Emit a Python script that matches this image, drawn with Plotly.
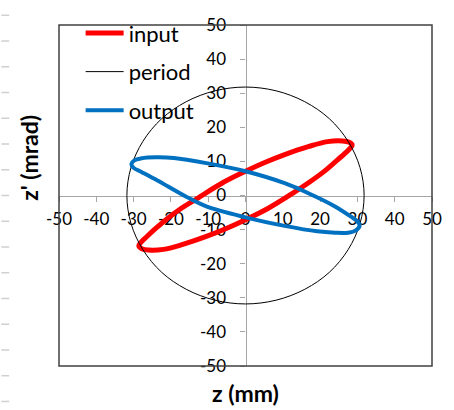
import plotly.graph_objects as go

# ---- data ----
input_z = [0.0, -6.0, -13.0, -17.0, -21.0, -24.0, -26.5, -28.0, -28.6, -27.8, -26.0, -22.0, -17.0,
           -10.5, -5.0, 0.0, 6.0, 13.0, 17.0, 21.0, 24.0, 26.5, 28.0, 28.6, 27.8, 26.0, 22.0,
           17.0, 10.5, 5.0, 0.0]
input_zp = [7.1, 3.8, -0.9, -3.6, -6.8, -9.6, -12.1, -13.7, -14.8, -15.6, -16.0, -15.8, -14.4,
            -12.0, -9.6, -7.1, -3.8, 0.9, 3.8, 7.0, 9.8, 12.2, 13.8, 14.8, 15.6, 16.0, 15.8,
            14.4, 12.0, 9.6, 7.1]

period_z = [31.8, 30.7, 27.5, 22.5, 15.9, 8.2, 0.0, -8.2, -15.9, -22.5, -27.5, -30.7, -31.8,
            -30.7, -27.5, -22.5, -15.9, -8.2, 0.0, 8.2, 15.9, 22.5, 27.5, 30.7, 31.8]
period_zp = [0.0, 8.2, 15.9, 22.5, 27.5, 30.7, 31.8, 30.7, 27.5, 22.5, 15.9, 8.2, 0.0,
             -8.2, -15.9, -22.5, -27.5, -30.7, -31.8, -30.7, -27.5, -22.5, -15.9, -8.2, 0.0]

output_z = [0.0, -10.5, -19.2, -24.0, -27.9, -29.8, -30.6, -30.0, -27.9, -23.6, -16.0, -10.5,
            0.0, 10.5, 19.2, 24.0, 27.5, 29.6, 30.6, 30.0, 28.4, 24.0, 17.0, 10.5, 0.0]
output_zp = [7.1, 9.5, 11.0, 11.2, 10.9, 10.3, 9.2, 8.1, 6.9, 4.4, -0.3, -3.2,
             -6.4, -8.9, -10.5, -10.9, -10.9, -10.2, -8.8, -7.6, -6.3, -3.2, 0.6, 3.6, 7.1]

x_ticks = [-50, -40, -30, -20, -10, 0, 10, 20, 30, 40, 50]
y_ticks = [-50, -40, -30, -20, -10, 0, 10, 20, 30, 40, 50]
x_tick_labels = ["-50", "-40", "-30", "-20", "-10", "0", "10", "20", "30", "40", "50"]
y_tick_labels = ["-50", "-40", "-30", "-20", "-10", "0", "10", "20", "30", "40", "50"]

FONT = "Lato"
W, H = 454, 410
ML, MR, MT, MB = 59, 13, 15, 44
PW, PH = W - ML - MR, H - MT - MB

fig = go.Figure()
fig.add_trace(go.Scatter(x=input_z, y=input_zp, mode="lines", name="input",
                         line=dict(color="#FF0000", width=5, shape="spline"),
                         legendgroup="a"))
fig.add_trace(go.Scatter(x=period_z, y=period_zp, mode="lines", name="period",
                         line=dict(color="#000000", width=1, shape="spline"),
                         legendgroup="b"))
fig.add_trace(go.Scatter(x=output_z, y=output_zp, mode="lines", name="output",
                         line=dict(color="#0070C0", width=4, shape="spline"),
                         legendgroup="c"))

axis_common = dict(range=[-50, 50], showgrid=False, zeroline=False,
                   showline=True, linecolor="#A6A6A6", linewidth=1.2, layer="below traces",
                   ticks="outside", ticklen=5, tickcolor="#A6A6A6", tickwidth=1,
                   tickfont=dict(family=FONT, size=17, color="#000000"),
                   anchor="free", position=0.5, fixedrange=True)

fig.update_layout(
    width=W, height=H,
    margin=dict(l=ML, r=MR, t=MT, b=MB),
    paper_bgcolor="white", plot_bgcolor="white",
    xaxis=dict(axis_common, tickvals=x_ticks, ticktext=x_tick_labels, ticklabelstandoff=3),
    yaxis=dict(axis_common, tickvals=y_ticks, ticktext=y_tick_labels, ticklabelstandoff=11),
    showlegend=True,
    legend=dict(x=0.058, y=1.0375, xanchor="left", yanchor="top",
                font=dict(family=FONT, size=22, color="#000000"),
                bgcolor="rgba(0,0,0,0)", tracegroupgap=7, itemwidth=38,
                traceorder="grouped"),
)

shapes = [dict(type="rect", xref="paper", yref="paper", x0=0, y0=0, x1=1, y1=1,
               line=dict(color="#404040", width=1.5), layer="above")]
# spreadsheet row marks at far left
for i in range(16):
    py = 5 + 26.5 * i
    yp = 1 - (py - MT) / PH
    shapes.append(dict(type="line", xref="paper", yref="paper",
                       x0=(0 - ML) / PW, x1=(8 - ML) / PW, y0=yp, y1=yp,
                       line=dict(color="#D0D0D0", width=1.5)))
fig.update_layout(shapes=shapes)

fig.add_annotation(text="<b>z (mm)</b>", xref="paper", yref="paper",
                   x=0.5, y=(H - 394 - MB) / PH, xanchor="center", yanchor="middle",
                   showarrow=False, font=dict(family=FONT, size=23, color="#000000"))
fig.add_annotation(text="<b>z' (mrad)</b>", xref="paper", yref="paper",
                   x=(28 - ML) / PW, y=1 - (152 - MT) / PH, xanchor="center", yanchor="middle",
                   textangle=-90, showarrow=False,
                   font=dict(family=FONT, size=23, color="#000000"))

fig.write_html("out.html", config={"displayModeBar": False},
               post_script="document.body.style.margin='0';")
